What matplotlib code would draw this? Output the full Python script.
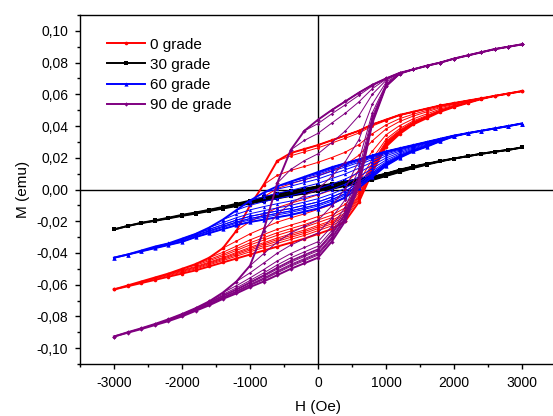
import numpy as np
import matplotlib.pyplot as plt
from matplotlib.ticker import MultipleLocator, FuncFormatter

plt.rcParams['font.family'] = ['Liberation Sans', 'DejaVu Sans']

# field grid (Oe) of the measurement
H = [-3000, -2800, -2600, -2400, -2200, -2000, -1800, -1600, -1400, -1200, -1000,
     -800, -600, -400, -200, 0, 200, 400, 600, 800, 1000,
     1200, 1400, 1600, 1800, 2000, 2200, 2400, 2600, 2800, 3000]

# reversal fields of the minor curves
H_REV = [-2800, -2600, -2400, -2200, -2000, -1800, -1600, -1400, -1200, -1000,
         -800, -600, -400, -200, 0, 200, 400]

labels = ["0 grade", "30 grade", "60 grade", "90 de grade"]

# major loop, descending (upper) and ascending (lower) branches, M in emu
up_0 = [-0.063, -0.0605, -0.058, -0.0555, -0.053, -0.050, -0.047, -0.043, -0.037, -0.026, -0.010,
        0.003, 0.018, 0.023, 0.0255, 0.028, 0.031, 0.034, 0.037, 0.041, 0.044,
        0.047, 0.049, 0.051, 0.053, 0.0545, 0.056, 0.0575, 0.059, 0.0605, 0.062]
lo_0 = [-0.063, -0.061, -0.059, -0.057, -0.055, -0.053, -0.051, -0.0485, -0.046, -0.0435, -0.041,
        -0.0385, -0.036, -0.0335, -0.031, -0.028, -0.025, -0.020, -0.008, 0.011, 0.027,
        0.035, 0.041, 0.045, 0.049, 0.052, 0.0545, 0.057, 0.059, 0.0605, 0.062]

up_30 = [-0.0252, -0.023, -0.021, -0.0195, -0.0178, -0.016, -0.0145, -0.0128, -0.011, -0.009, -0.007,
         -0.005, -0.003, -0.001, 0.0005, 0.002, 0.0035, 0.005, 0.0065, 0.008, 0.010,
         0.0125, 0.0145, 0.0162, 0.018, 0.0195, 0.021, 0.0225, 0.0238, 0.025, 0.0265]
lo_30 = [-0.0252, -0.023, -0.0212, -0.0198, -0.0182, -0.0166, -0.0152, -0.0136, -0.012, -0.0104, -0.0088,
         -0.0072, -0.0056, -0.004, -0.0025, -0.001, 0.0005, 0.0022, 0.004, 0.006, 0.0085,
         0.011, 0.0135, 0.0157, 0.0177, 0.0195, 0.021, 0.0225, 0.0238, 0.025, 0.0265]

up_60 = [-0.043, -0.041, -0.0385, -0.036, -0.034, -0.031, -0.028, -0.024, -0.019, -0.013, -0.007,
         -0.002, 0.002, 0.005, 0.008, 0.011, 0.014, 0.0165, 0.019, 0.0215, 0.024,
         0.026, 0.028, 0.030, 0.032, 0.034, 0.0355, 0.037, 0.0385, 0.040, 0.0416]
lo_60 = [-0.043, -0.041, -0.039, -0.037, -0.035, -0.033, -0.030, -0.0275, -0.025, -0.0225, -0.0205,
         -0.019, -0.0175, -0.016, -0.014, -0.012, -0.009, -0.005, 0.001, 0.008, 0.015,
         0.020, 0.024, 0.027, 0.0305, 0.0335, 0.0355, 0.037, 0.0385, 0.040, 0.0416]

up_90 = [-0.0927, -0.090, -0.0875, -0.0848, -0.0818, -0.0785, -0.0748, -0.0705, -0.065, -0.058, -0.048,
         -0.026, 0.004, 0.025, 0.037, 0.044, 0.050, 0.0555, 0.061, 0.066, 0.070,
         0.0735, 0.0757, 0.078, 0.080, 0.0825, 0.0845, 0.0865, 0.0885, 0.090, 0.0915]
lo_90 = [-0.0927, -0.0903, -0.088, -0.0855, -0.083, -0.080, -0.0765, -0.073, -0.069, -0.0655, -0.0615,
         -0.058, -0.054, -0.050, -0.0465, -0.043, -0.033, -0.020, 0.002, 0.042, 0.065,
         0.073, 0.0757, 0.078, 0.080, 0.0825, 0.0845, 0.0865, 0.0885, 0.090, 0.0915]

samples = [
    (up_0, lo_0, "#ff0000", "o", 2.6),
    (up_30, lo_30, "#000000", "s", 2.4),
    (up_60, lo_60, "#0000ff", "^", 3.0),
    (up_90, lo_90, "#800080", "D", 2.2),
]


def reversal_curves(up, lo, p=0.3):
    """curves leaving the upper branch at each reversal field, run back to +3000 Oe"""
    h = np.array(H)
    up, lo = np.array(up), np.array(lo)
    gap = np.clip(up - lo, 1e-6, None)
    peak = int(np.argmax(gap))
    out = []
    for hr in H_REV:
        i = H.index(hr)
        if i >= peak:
            out.append((h[i:], up[i:]))
            continue
        off = np.empty(len(H) - i)
        for j in range(i, len(H)):
            g = max(gap[min(j, peak)], gap[i])
            off[j - i] = gap[i] ** (1 - p) * g ** p
            if j > peak:
                off[j - i] *= gap[j] / gap[peak]
        out.append((h[i:], np.clip(lo[i:] + off, lo[i:], up[i:])))
    return out


fig = plt.figure(figsize=(5.53, 4.16), dpi=100)
ax = fig.add_axes([80 / 553, 52 / 416, 476 / 553, 349 / 416])

ax.axhline(0, color="black", lw=1.0, zorder=1)
ax.axvline(0, color="black", lw=1.0, zorder=1)

for n, (up, lo, col, mk, ms) in enumerate(samples):
    z = 2 + n
    for hh, mm in reversal_curves(up, lo):
        ax.plot(hh, mm, color=col, lw=0.7, marker=mk, ms=ms * 0.8, mew=0, zorder=z)
    ax.plot(H, up, color=col, lw=1.4, marker=mk, ms=ms, mew=0, zorder=z)
    ax.plot(H, lo, color=col, lw=1.4, marker=mk, ms=ms, mew=0, zorder=z,
            label=labels[n])

ax.set_xlim(-3500, 3500)
ax.set_ylim(-0.11, 0.11)
ax.xaxis.set_major_locator(MultipleLocator(1000))
ax.xaxis.set_minor_locator(MultipleLocator(500))
ax.yaxis.set_major_locator(MultipleLocator(0.02))
ax.yaxis.set_minor_locator(MultipleLocator(0.01))
ax.yaxis.set_major_formatter(FuncFormatter(lambda v, p: f"{v:.2f}".replace(".", ",").replace("-0,00", "0,00")))
ax.xaxis.set_major_formatter(FuncFormatter(lambda v, p: f"{v:.0f}"))
ax.tick_params(which="major", direction="out", length=3.5, width=1, labelsize=10)
ax.tick_params(which="minor", direction="out", length=2, width=1)
ax.tick_params(axis="x", pad=5)
ax.tick_params(axis="y", pad=5)
for s in ax.spines.values():
    s.set_linewidth(1.0)

ax.set_xlabel("H (Oe)", fontsize=11, labelpad=7)
ax.set_ylabel("M (emu)", fontsize=11, labelpad=5)

ax.legend(loc="upper left", bbox_to_anchor=(0.057, 0.935), frameon=False, fontsize=11,
          handlelength=2.5, handletextpad=0.3, labelspacing=0.4, borderaxespad=0,
          borderpad=0, numpoints=1)

fig.savefig("out.png", dpi=100)
